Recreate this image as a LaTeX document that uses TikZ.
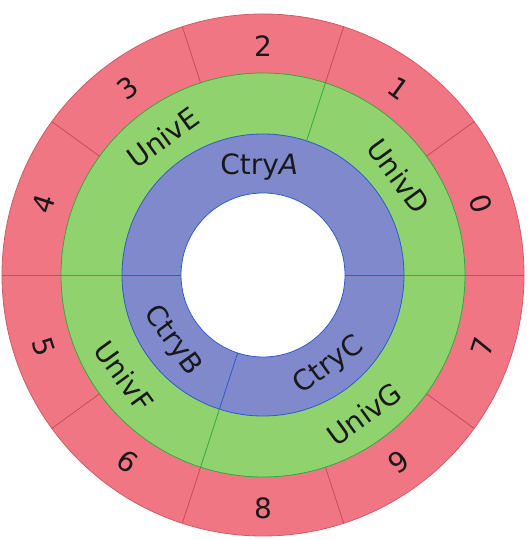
\documentclass[tikz,border=0pt]{standalone}
\usepackage{fontspec}
\setmainfont{DejaVu Sans}
\definecolor{ringred}{RGB}{241,118,132}
\definecolor{ringgreen}{RGB}{144,211,110}
\definecolor{ringblue}{RGB}{128,137,204}
\definecolor{redline}{RGB}{196,78,92}
\definecolor{greenline}{RGB}{50,170,60}
\definecolor{blueline}{RGB}{45,90,205}
\tikzset{
  lbl/.style={font=\fontsize{28}{32}\selectfont, inner sep=0pt, text=black!90},
  redsep/.style={draw=redline, line width=0.8pt},
  greensep/.style={draw=greenline, line width=0.8pt},
  bluesep/.style={draw=blueline, line width=0.8pt}
}
\begin{document}
\begin{tikzpicture}[x=1pt,y=1pt]
\useasboundingbox (0,0) rectangle (530,540);
\begin{scope}[shift={(263,265)}]
\coordinate (O) at (0,0);
% rings
\fill[ringred] (O) circle (261);
\draw[redline!70!ringred, line width=0.8pt] (O) circle (261);
\fill[ringgreen] (O) circle (202);
\draw[greenline, line width=0.8pt] (O) circle (202);
\fill[ringblue] (O) circle (141);
\draw[blueline, line width=0.8pt] (O) circle (141);
\fill[white] (O) circle (82);
\draw[blueline, line width=0.8pt] (O) circle (82);
% separators
\foreach \a in {0,36,...,324} {
  \coordinate (r\a a) at (\a:202);
  \coordinate (r\a b) at (\a:261);
  \draw[redsep] (r\a a) -- (r\a b);
}
\foreach \a in {0,72,180,252} {
  \coordinate (g\a a) at (\a:141);
  \coordinate (g\a b) at (\a:202);
  \draw[greensep] (g\a a) -- (g\a b);
}
\foreach \a in {0,180,252} {
  \coordinate (b\a a) at (\a:82);
  \coordinate (b\a b) at (\a:141);
  \draw[bluesep] (b\a a) -- (b\a b);
}
% outer labels
\node[lbl, rotate=-72] (n0) at (18:229) {0};
\node[lbl, rotate=-36] (n1) at (54:231) {1};
\node[lbl, rotate=0]   (n2) at (90:229) {2};
\node[lbl, rotate=36]  (n3) at (126:231) {3};
\node[lbl, rotate=72]  (n4) at (162:231) {4};
\node[lbl, rotate=-72] (n5) at (198:231) {5};
\node[lbl, rotate=-36] (n6) at (234:231) {6};
\node[lbl, rotate=0]   (n8) at (270:233) {8};
\node[lbl, rotate=36]  (n9) at (306:231) {9};
\node[lbl, rotate=72]  (n7) at (342:231) {7};
% middle labels
\node[lbl, rotate=-54] (uD) at (36:168) {UnivD};
\node[lbl, rotate=36]  (uE) at (126:170) {UnivE};
\node[lbl, rotate=-54] (uF) at (216:172) {UnivF};
\node[lbl, rotate=36]  (uG) at (306:172) {UnivG};
% inner labels
\node[lbl] (cA) at (92:108) {Ctry\textit{A}};
\node[lbl, rotate=-54] (cB) at (216:112) {CtryB};
\node[lbl, rotate=36]  (cC) at (306:112) {CtryC};
\end{scope}
\end{tikzpicture}
\end{document}
